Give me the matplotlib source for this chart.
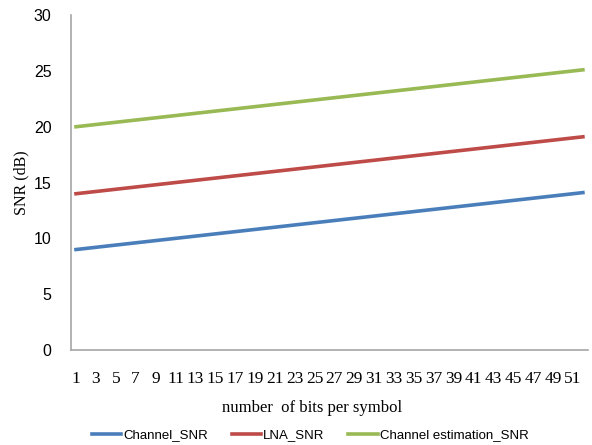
import numpy as np
import matplotlib
matplotlib.use("Agg")
import matplotlib.pyplot as plt

# bits per symbol on the category axis
bits = list(range(1, 53))

channel_snr = [9.0, 9.1, 9.2, 9.3, 9.4, 9.5, 9.6, 9.7, 9.8, 9.9,
               10.0, 10.1, 10.2, 10.3, 10.4, 10.5, 10.6, 10.7, 10.8, 10.9,
               11.0, 11.1, 11.2, 11.3, 11.4, 11.5, 11.6, 11.7, 11.8, 11.9,
               12.0, 12.1, 12.2, 12.3, 12.4, 12.5, 12.6, 12.7, 12.8, 12.9,
               13.0, 13.1, 13.2, 13.3, 13.4, 13.5, 13.6, 13.7, 13.8, 13.9,
               14.0, 14.1]
lna_snr = [14.0, 14.1, 14.2, 14.3, 14.4, 14.5, 14.6, 14.7, 14.8, 14.9,
           15.0, 15.1, 15.2, 15.3, 15.4, 15.5, 15.6, 15.7, 15.8, 15.9,
           16.0, 16.1, 16.2, 16.3, 16.4, 16.5, 16.6, 16.7, 16.8, 16.9,
           17.0, 17.1, 17.2, 17.3, 17.4, 17.5, 17.6, 17.7, 17.8, 17.9,
           18.0, 18.1, 18.2, 18.3, 18.4, 18.5, 18.6, 18.7, 18.8, 18.9,
           19.0, 19.1]
chest_snr = [20.0, 20.1, 20.2, 20.3, 20.4, 20.5, 20.6, 20.7, 20.8, 20.9,
             21.0, 21.1, 21.2, 21.3, 21.4, 21.5, 21.6, 21.7, 21.8, 21.9,
             22.0, 22.1, 22.2, 22.3, 22.4, 22.5, 22.6, 22.7, 22.8, 22.9,
             23.0, 23.1, 23.2, 23.3, 23.4, 23.5, 23.6, 23.7, 23.8, 23.9,
             24.0, 24.1, 24.2, 24.3, 24.4, 24.5, 24.6, 24.7, 24.8, 24.9,
             25.0, 25.1]

xtick_vals = list(range(1, 53, 2))
ytick_vals = [0, 5, 10, 15, 20, 25, 30]

sans_font = ['Liberation Sans', 'DejaVu Sans']
serif_font = ['Liberation Serif', 'DejaVu Serif']

fig = plt.figure(figsize=(5.92, 4.45), dpi=100)
ax = fig.add_axes([0.12, 0.2135, 0.873, 0.7525])

ax.plot(bits, channel_snr, color='#4A7EBB', lw=2.6, label='Channel_SNR')
ax.plot(bits, lna_snr, color='#BE4B48', lw=2.6, label='LNA_SNR')
ax.plot(bits, chest_snr, color='#98B954', lw=2.6, label='Channel estimation_SNR')

ax.set_xlim(0.5, 52.5)
ax.set_ylim(0, 30)
ax.set_xticks(xtick_vals)
ax.set_xticklabels([str(v) for v in xtick_vals], family=serif_font, fontsize=12.5)
ax.set_yticks(ytick_vals)
ax.set_yticklabels([str(v) for v in ytick_vals], family=sans_font, fontsize=11.5)
ax.tick_params(axis='both', length=0)
ax.tick_params(axis='x', pad=15)
ax.tick_params(axis='y', pad=14)

for side in ['top', 'right']:
    ax.spines[side].set_visible(False)
for side in ['left', 'bottom']:
    ax.spines[side].set_color('#A6A6A6')
    ax.spines[side].set_linewidth(1.2)

ax.set_xlabel('number  of bits per symbol', family=serif_font, fontsize=12)
ax.xaxis.set_label_coords(0.466, -0.148)
ax.set_ylabel('SNR (dB)', family=serif_font, fontsize=11.5)
ax.yaxis.set_label_coords(-0.08, 0.5)

fig.legend(loc='center', bbox_to_anchor=(0.524, 0.022), ncol=3, frameon=False,
           prop={'family': sans_font, 'size': 9.5}, handlelength=2.2,
           handletextpad=0.2, columnspacing=1.8)

fig.savefig('out.png', dpi=100)
